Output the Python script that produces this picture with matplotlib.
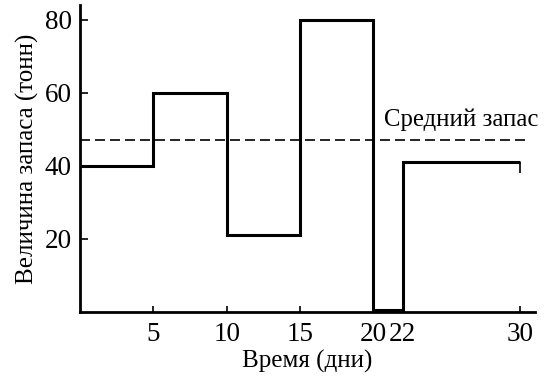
import matplotlib.pyplot as plt
import numpy as np

plt.rcParams['font.family'] = ['Liberation Serif', 'DejaVu Serif']

# границы интервалов (дни) и уровень запаса на каждом интервале (тонн)
edges = [0, 5, 10, 15, 20, 22, 30]
stock = [40, 60, 21, 80, 0.5, 41]
mean_stock = 47
xticks = [5, 10, 15, 20, 22, 30]
yticks = [20, 40, 60, 80]

fig = plt.figure(figsize=(5.46, 3.8), dpi=100)
ax = fig.add_axes([0.1465, 0.179, 0.833, 0.808])

ax.stairs(stock, edges, baseline=None, color="black", linewidth=2.2)
ax.vlines(edges[-1], stock[-1] - 3, stock[-1], color="black", linewidth=1.2)
ax.axhline(mean_stock, xmin=0, xmax=30.5 / 31, color="black", linewidth=1.2,
           linestyle=(0, (6, 3)))
ax.text(20.7, 49.5, "Средний запас", fontsize=17.8, ha="left", va="bottom")

ax.set_xlim(0, 31)
ax.set_ylim(0, 84)
ax.set_xticks(xticks)
ax.set_yticks(yticks)
ax.tick_params(direction="in", labelsize=19.5, width=1.2, length=6, pad=6)
ax.tick_params(axis="x", length=4, pad=7)
for side in ("top", "right"):
    ax.spines[side].set_visible(False)
for side in ("left", "bottom"):
    ax.spines[side].set_linewidth(2)

ax.set_xlabel("Время (дни)", fontsize=18, labelpad=2)
ax.set_ylabel("Величина запаса (тонн)", fontsize=18, labelpad=4)

fig.savefig("out.png", dpi=100)
